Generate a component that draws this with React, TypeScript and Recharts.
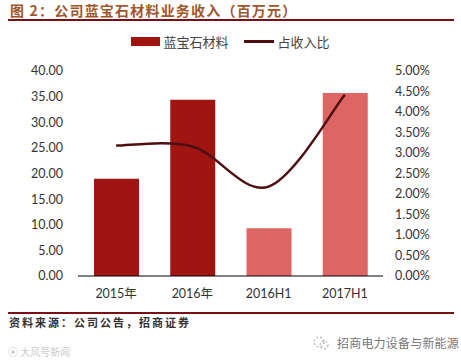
import React from 'react';
import { Bar, Cell, ComposedChart, Legend, Line, XAxis, YAxis } from 'recharts';

const categories = ['2015年', '2016年', '2016H1', '2017H1'];
const revenue = [19.0, 34.4, 9.3, 35.7];
const share = [3.18, 3.16, 2.18, 4.42];
const barColors = ['#a01512', '#a01512', '#dd6563', '#dd6563'];
const leftTicks = [0, 5, 10, 15, 20, 25, 30, 35, 40];
const rightTicks = [0, 0.5, 1, 1.5, 2, 2.5, 3, 3.5, 4, 4.5, 5];

const data = categories.map((name, i) => ({ name, revenue: revenue[i], share: share[i] }));

const tickFont = { fontFamily: 'Lato, "Noto Sans CJK SC"', fontSize: 12.5, fill: '#333' };
const cjk = '"Noto Sans CJK SC"';

// spreadsheet style smoothed line: a bezier per segment, tangents taken from the neighbours
const smoothCurve = (ctx: any) => {
  let pts: [number, number][] = [];
  return {
    areaStart() {},
    areaEnd() {},
    lineStart() {
      pts = [];
    },
    point(x: number, y: number) {
      pts.push([x, y]);
    },
    lineEnd() {
      pts.forEach((p, i) => {
        if (i === 0) {
          ctx.moveTo(p[0], p[1]);
          return;
        }
        const p0 = pts[i - 2] || pts[i - 1];
        const p1 = pts[i - 1];
        const p3 = pts[i + 1] || p;
        ctx.bezierCurveTo(
          p1[0] + (p[0] - p0[0]) / 6,
          p1[1] + (p[1] - p0[1]) / 6,
          p[0] - (p3[0] - p1[0]) / 6,
          p[1] - (p3[1] - p1[1]) / 6,
          p[0],
          p[1]
        );
      });
    },
  };
};

const LegendContent = () => (
  <div style={{ display: 'flex', justifyContent: 'center', alignItems: 'center', fontFamily: cjk, fontSize: 13, color: '#444' }}>
    <span style={{ width: 29, height: 9, background: '#a01512', marginRight: 3 }} />
    <span style={{ marginRight: 15 }}>蓝宝石材料</span>
    <span style={{ width: 30, height: 3, background: '#4f0f12', marginRight: 4 }} />
    <span>占收入比</span>
  </div>
);

export default function App() {
  return (
    <div style={{ position: 'absolute', left: 0, top: 0, width: 461, height: 363, background: '#fff', overflow: 'hidden' }}>
      <div style={{ position: 'absolute', left: 10, top: 0, fontFamily: cjk, fontWeight: 700, fontSize: 14, lineHeight: '20px', letterSpacing: 1.2, color: '#a0562c', whiteSpace: 'nowrap' }}>
        图 2：公司蓝宝石材料业务收入（百万元）
      </div>
      <div style={{ position: 'absolute', left: 8, top: 19, width: 446, height: 2, background: '#7a1016' }} />

      <ComposedChart
        width={461}
        height={363}
        data={data}
        margin={{ top: 52, right: 18, left: 18, bottom: 62 }}
        style={{ position: 'absolute', left: 0, top: 0 }}
      >
        <XAxis
          dataKey="name"
          tick={tickFont}
          tickLine={false}
          axisLine={{ stroke: '#000', strokeWidth: 1 }}
          tickMargin={7}
          height={25}
          interval={0}
        />
        <YAxis
          yAxisId="left"
          domain={[0, 40]}
          ticks={leftTicks}
          interval={0}
          tickFormatter={(v: number) => v.toFixed(2)}
          tick={tickFont}
          tickLine={false}
          axisLine={false}
          tickMargin={9}
          width={60}
        />
        <YAxis
          yAxisId="right"
          orientation="right"
          domain={[0, 5]}
          ticks={rightTicks}
          interval={0}
          tickFormatter={(v: number) => `${v.toFixed(2)}%`}
          tick={tickFont}
          tickLine={false}
          axisLine={false}
          tickMargin={6}
          width={60}
        />
        <Legend content={<LegendContent />} verticalAlign="top" wrapperStyle={{ top: 32, left: 0, width: 461 }} />
        <Bar yAxisId="left" dataKey="revenue" barSize={45} isAnimationActive={false}>
          {data.map((d, i) => (
            <Cell key={d.name} fill={barColors[i]} />
          ))}
        </Bar>
        <Line
          yAxisId="right"
          dataKey="share"
          type={smoothCurve as any}
          stroke="#4f0f12"
          strokeWidth={2.5}
          dot={false}
          isAnimationActive={false}
        />
      </ComposedChart>

      <div style={{ position: 'absolute', left: 8, top: 312, width: 446, height: 2, background: '#7a1016' }} />
      <div style={{ position: 'absolute', left: 9, top: 313, fontFamily: cjk, fontWeight: 700, fontSize: 11, lineHeight: '18px', letterSpacing: 2, color: '#333', whiteSpace: 'nowrap' }}>
        资料来源：公司公告，招商证券
      </div>
      <svg width={16} height={16} style={{ position: 'absolute', left: 313, top: 335 }}>
        <circle cx={6} cy={7} r={5} fill="none" stroke="#999" strokeDasharray="2 2" />
        <circle cx={11} cy={10} r={4} fill="none" stroke="#999" strokeDasharray="2 2" />
      </svg>
      <div style={{ position: 'absolute', left: 337, top: 334, fontFamily: cjk, fontSize: 12, lineHeight: '18px', letterSpacing: 0.2, color: '#777', whiteSpace: 'nowrap' }}>
        招商电力设备与新能源
      </div>
      <div style={{ position: 'absolute', left: 8, top: 345, fontFamily: cjk, fontSize: 10, lineHeight: '14px', color: '#ccc', whiteSpace: 'nowrap' }}>
        ⦿ 大风号新闻
      </div>
    </div>
  );
}
